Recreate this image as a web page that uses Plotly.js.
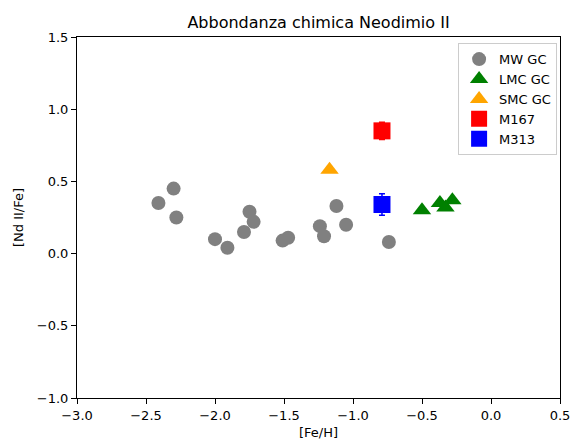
<!DOCTYPE html>
<html>
<head>
<meta charset="utf-8">
<script src="https://cdn.plot.ly/plotly-3.0.1.min.js"></script>
<style>html,body{margin:0;padding:0;background:#fff;}#chart{width:571px;height:443px;}</style>
</head>
<body>
<div id="chart"></div>
<script>
// MW globular clusters
const mwFeH = [-2.41, -2.30, -2.28, -2.00, -1.91, -1.79, -1.75, -1.72, -1.51, -1.47, -1.24, -1.21, -1.12, -1.05, -0.74];
const mwNd  = [0.35, 0.45, 0.25, 0.10, 0.04, 0.15, 0.29, 0.22, 0.09, 0.11, 0.19, 0.12, 0.33, 0.20, 0.08];
// LMC globular clusters
const lmcFeH = [-0.50, -0.37, -0.33, -0.28];
const lmcNd  = [0.30, 0.35, 0.32, 0.37];
// SMC globular clusters
const smcFeH = [-1.17];
const smcNd  = [0.58];
// M167
const m167FeH = [-0.79];
const m167Nd  = [0.85];
const m167Err = [0.06];
// M313
const m313FeH = [-0.79];
const m313Nd  = [0.34];
const m313Err = [0.075];

const xTicks = [-3.0, -2.5, -2.0, -1.5, -1.0, -0.5, 0.0, 0.5];
const yTicks = [-1.0, -0.5, 0.0, 0.5, 1.0, 1.5];

const traces = [
  {x: mwFeH, y: mwNd, name: 'MW GC', mode: 'markers', type: 'scatter',
   marker: {symbol: 'circle', size: 14, color: 'gray'}},
  {x: lmcFeH, y: lmcNd, name: 'LMC GC', mode: 'markers', type: 'scatter',
   marker: {symbol: 'triangle-up', size: 16, color: 'green'}},
  {x: smcFeH, y: smcNd, name: 'SMC GC', mode: 'markers', type: 'scatter',
   marker: {symbol: 'triangle-up', size: 16, color: 'orange'}},
  {x: m167FeH, y: m167Nd, name: 'M167', mode: 'markers', type: 'scatter',
   marker: {symbol: 'square', size: 17, color: 'red'},
   error_y: {type: 'data', array: m167Err, color: 'red', thickness: 1.5, width: 3}},
  {x: m313FeH, y: m313Nd, name: 'M313', mode: 'markers', type: 'scatter',
   marker: {symbol: 'square', size: 17, color: 'blue'},
   error_y: {type: 'data', array: m313Err, color: 'blue', thickness: 1.5, width: 3}}
];

const font = {family: 'DejaVu Sans', size: 13, color: 'black'};

const layout = {
  width: 571, height: 443,
  margin: {l: 77, r: 11, t: 37, b: 45},
  paper_bgcolor: 'white', plot_bgcolor: 'white',
  font: font,
  showlegend: true,
  title: {text: 'Abbondanza chimica Neodimio II', x: 0.5, xref: 'paper', xanchor: 'center',
          y: 1 - 22.5/443, yref: 'container', yanchor: 'middle',
          font: {family: 'DejaVu Sans', size: 16, color: 'black'}},
  xaxis: {range: [-3.0, 0.5], tickvals: xTicks, ticktext: xTicks.map(v => (v < 0 ? '\u2212' : '') + Math.abs(v).toFixed(1)),
          showgrid: false, zeroline: false, showline: true, mirror: true, linecolor: 'black', linewidth: 1,
          ticks: 'outside', ticklen: 5, tickcolor: 'black', tickfont: font,
          title: {text: '[Fe/H]', font: font, standoff: 6}},
  yaxis: {range: [-1.0, 1.5], tickvals: yTicks, ticktext: yTicks.map(v => (v < 0 ? '\u2212' : '') + Math.abs(v).toFixed(1)),
          showgrid: false, zeroline: false, showline: true, mirror: true, linecolor: 'black', linewidth: 1,
          ticks: 'outside', ticklen: 5, tickcolor: 'black', tickfont: font,
          title: {text: '[Nd II/Fe]', font: font, standoff: 10}},
  legend: {x: 0.994, y: 0.983, xanchor: 'right', yanchor: 'top',
           bgcolor: 'rgba(255,255,255,0.8)', bordercolor: '#cccccc', borderwidth: 1,
           font: font, itemsizing: 'trace'}
};

Plotly.newPlot('chart', traces, layout, {displayModeBar: false, staticPlot: true});
</script>
</body>
</html>
